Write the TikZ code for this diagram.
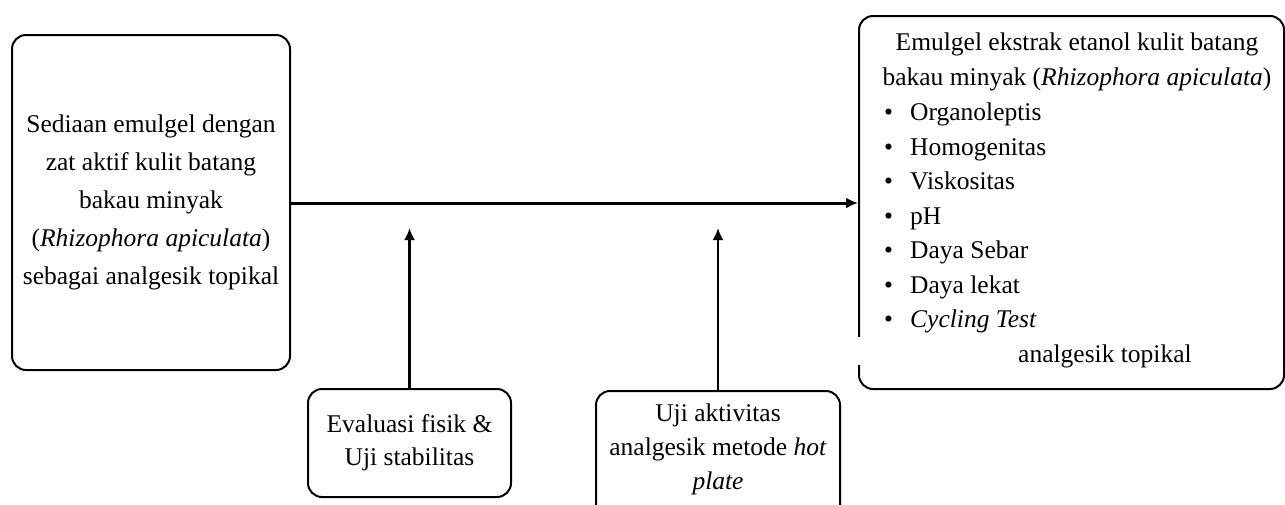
\documentclass[tikz,border=0pt]{standalone}
\usepackage{fontspec}
\setmainfont{Liberation Serif}
\usepackage{tikz}
\usetikzlibrary{arrows.meta}
\tikzset{
  box/.style={draw, line width=2pt, rounded corners=14pt, align=center, inner sep=0pt},
  txt/.style={align=center, inner sep=0pt},
}
\newcommand{\itm}{\makebox[26pt][l]{\textbullet}}

\begin{document}
\begin{tikzpicture}[x=1pt,y=-1pt,>={Latex[length=12pt,width=11pt]},font=\fontsize{25.5}{34.5}\selectfont]
%\draw[help lines, color=gray!30, dashed] (0,0) grid (1285,504);
\useasboundingbox (0,0) rectangle (1285,504);
\node[box, minimum width=278, minimum height=335, font=\fontsize{25.5}{38}\selectfont] (prep) at (151,202.5) {Sediaan emulgel dengan\\ zat aktif kulit batang\\ bakau minyak\\ (\textit{Rhizophora apiculata})\\ sebagai analgesik topikal};
\node[box, minimum width=425, minimum height=373, anchor=north west] (res) at (858,15) {};
\fill[white] (850,337) rectangle (1014,365);
\node[txt, anchor=north] (restitle) at (1077,33) {Emulgel ekstrak etanol kulit batang\\ bakau minyak (\textit{Rhizophora apiculata})};
\node[txt, align=left, anchor=north west] (reslist) at (884,103) {\itm Organoleptis\\ \itm Homogenitas\\ \itm Viskositas\\ \itm pH\\ \itm Daya Sebar\\ \itm Daya lekat\\ \itm \textit{Cycling Test}\\ \hspace*{134pt}analgesik topikal};
\node[box, minimum width=203, minimum height=108, font=\fontsize{25.5}{33}\selectfont] (eval) at (409.5,443) {Evaluasi fisik \&\\ Uji stabilitas};
\node[box, minimum width=244, minimum height=150, anchor=north] (act) at (718,390) {};
\node[txt, font=\fontsize{25.5}{34}\selectfont] (acttext) at (718,449) {Uji aktivitas\\ analgesik metode \textit{hot}\\ \textit{plate}};
\coordinate (evaltip) at (409.5,228);
\coordinate (acttip) at (718,228);
\draw[->, line width=3pt] (prep.east |- 0,203) -- (res.west |- 0,203);
\draw[->, line width=2.5pt] (eval.north) -- (evaltip);
\draw[->, line width=2.5pt] (act.north) -- (acttip);
\end{tikzpicture}
\end{document}
